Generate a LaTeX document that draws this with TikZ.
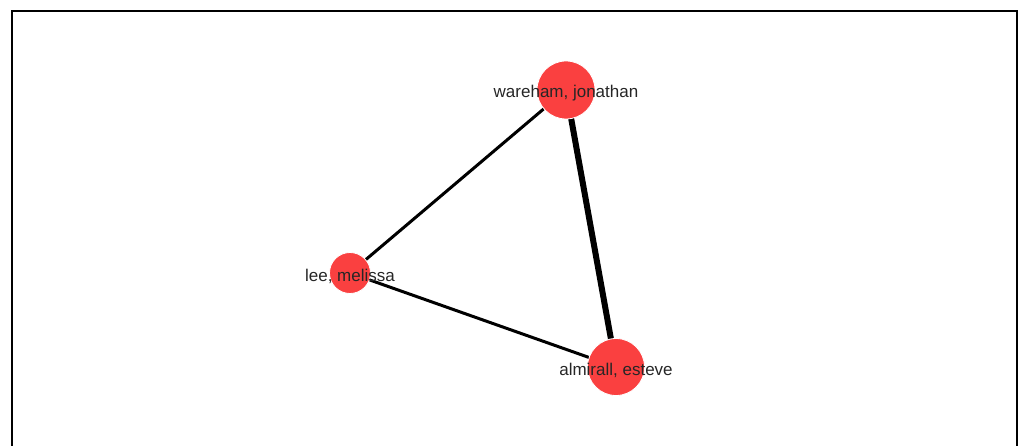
\documentclass[tikz,border=0pt]{standalone}
\usepackage{fontspec}
\setmainfont{Liberation Sans}
\usepackage{xcolor}
\usetikzlibrary{positioning, backgrounds}
\definecolor{nodered}{RGB}{250, 64, 64}
\tikzstyle{person} = [circle, fill=nodered, draw=white, line width=0.8pt, inner sep=0pt]
\tikzstyle{personname} = [text=black!85, font=\fontsize{17}{19}\selectfont, yshift=-3pt]
\tikzstyle{tie} = [line width=3pt, black]
\tikzstyle{strongtie} = [line width=6pt, black]

\begin{document}
\begin{tikzpicture}[x=1pt, y=-1pt]
\useasboundingbox (0,0) rectangle (1019,446);

% Frame
\draw [line width=2pt] (12,446) -- (12,11) -- (1017,11) -- (1017,446);

% People
\node (wareham) [person, minimum size=58pt, label={[personname]center:wareham, jonathan}] at (566,90) {};
\node (lee) [person, minimum size=41pt, label={[personname]center:lee, melissa}] at (350,273) {};
\node (almirall) [person, minimum size=57pt, label={[personname]center:almirall, esteve}] at (616,367) {};

% Ties
\begin{scope}[on background layer]
\draw [tie] (wareham.center) -- (lee.center);
\draw [tie] (lee.center) -- (almirall.center);
\draw [strongtie] (wareham.center) -- (almirall.center);
\end{scope}

\end{tikzpicture}
\end{document}
